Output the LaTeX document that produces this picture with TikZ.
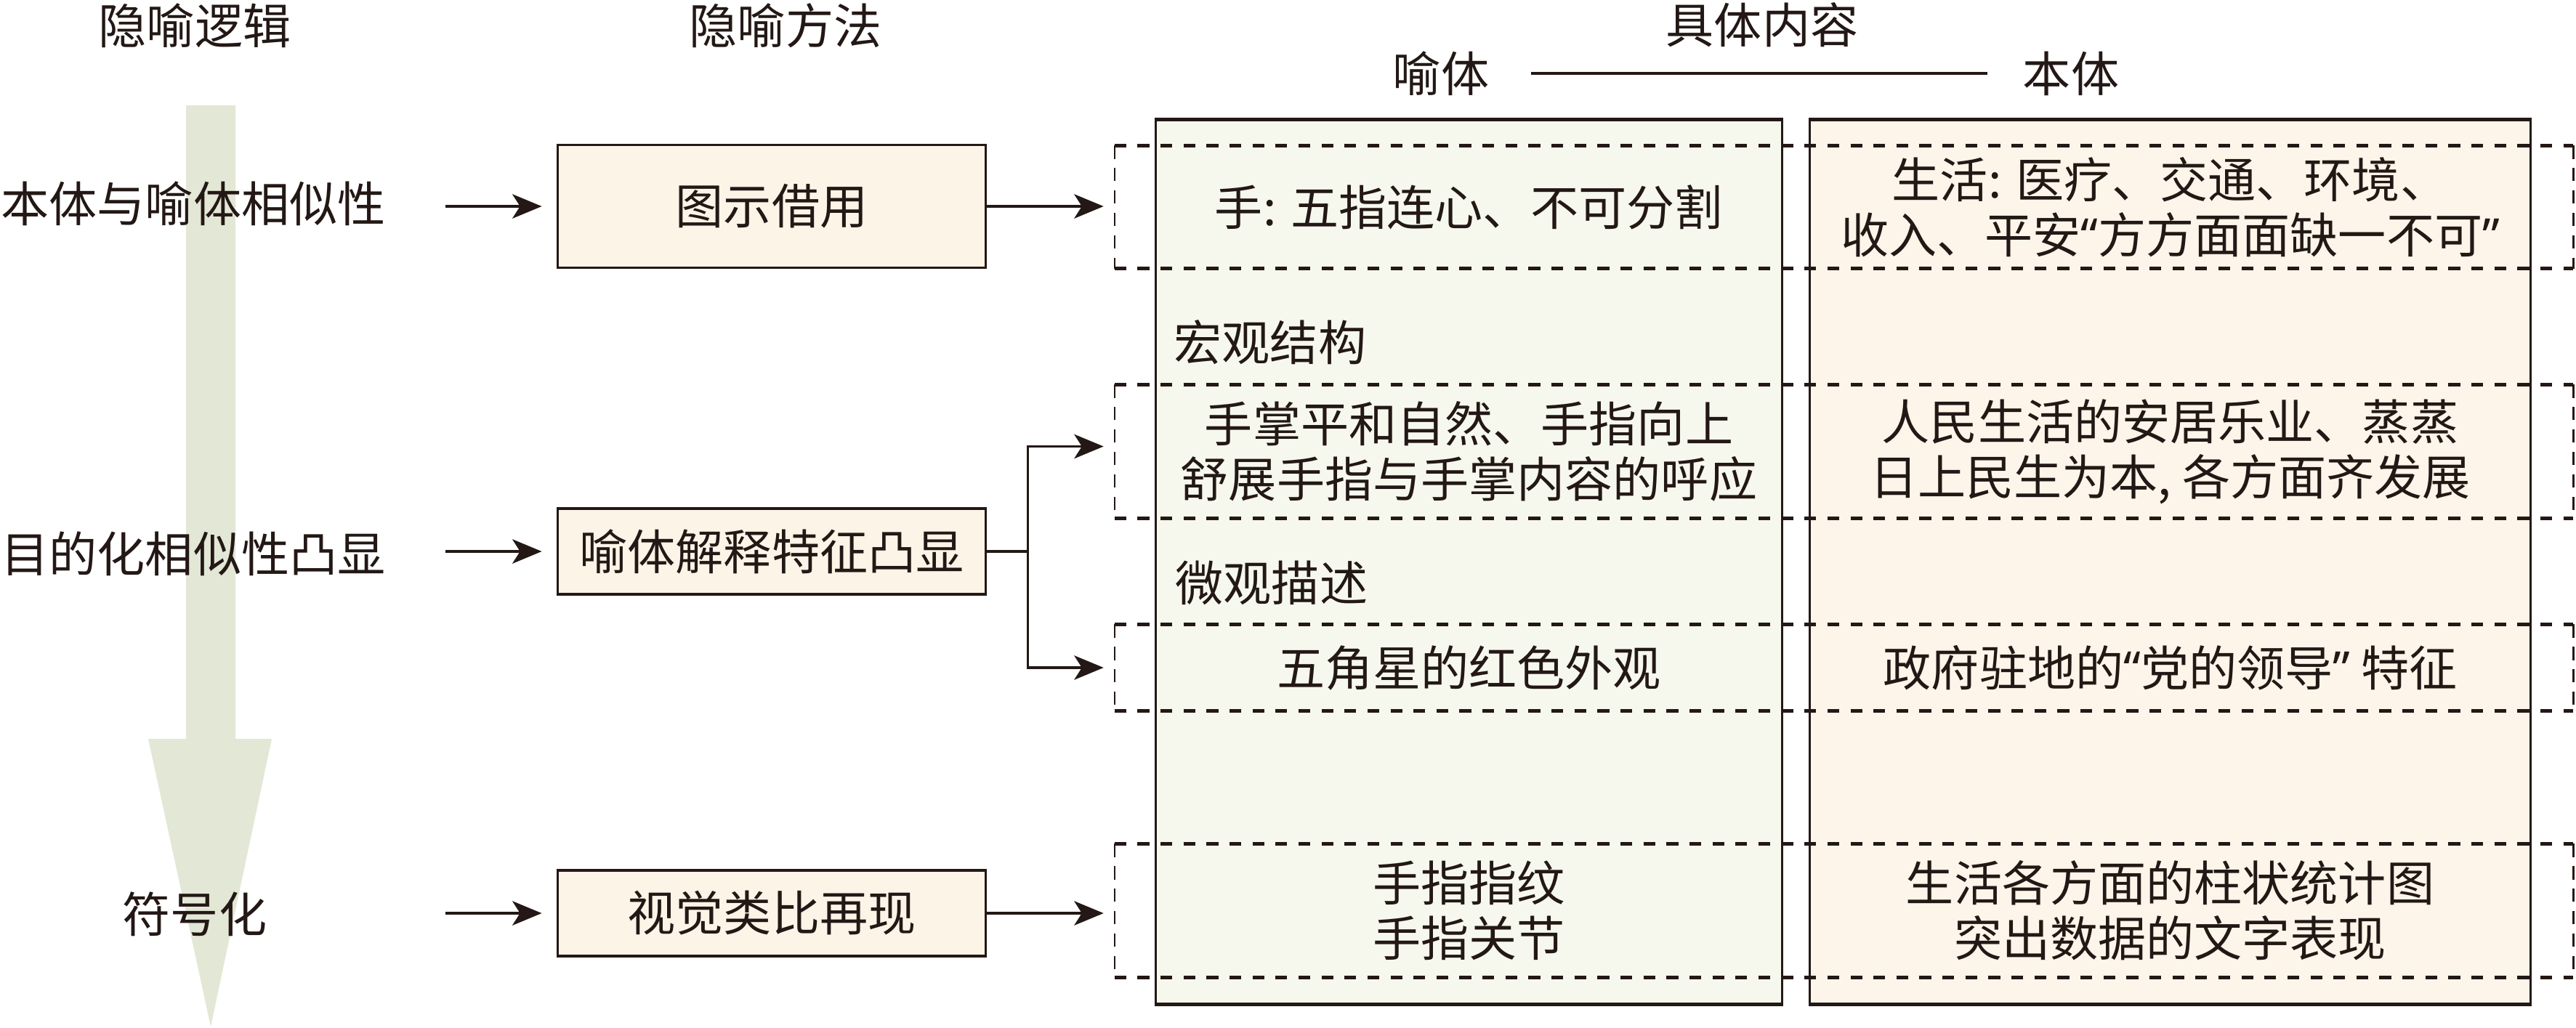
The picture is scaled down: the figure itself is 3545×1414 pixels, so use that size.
\documentclass[tikz,border=0pt]{standalone}
\usepackage{fontspec}
\newfontfamily\cjk{Noto Sans CJK SC}
\newfontfamily\latinq{Noto Sans}
\usetikzlibrary{positioning, arrows.meta}
\usepackage{xcolor}
\definecolor{ink}{HTML}{231815}
\definecolor{boxfill}{HTML}{FCF4E7}
\definecolor{yufill}{HTML}{F6F8ED}
\definecolor{benfill}{HTML}{FDF5E9}
\definecolor{flowgreen}{HTML}{E3E7D5}
\newcommand{\openq}{{\latinq “}}
\newcommand{\closeq}{{\latinq ”}}

\begin{document}
\begin{tikzpicture}[
        x=0.01cm, y=-0.01cm,
        every node/.style={font=\cjk\fontsize{18.8}{21.6}\selectfont, text=ink, inner sep=0pt},
        method/.style={rectangle, draw=ink, line width=1pt, fill=boxfill, minimum width=5.89cm, align=center},
        column/.style={rectangle, draw=ink, line width=0.8pt, minimum height=12.15cm},
        rowbox/.style={rectangle, minimum width=20.05cm},
        rowtext/.style={align=center},
        hdash/.style={ink, line width=1.3pt, dash pattern=on 4.6pt off 4.4pt},
        vdash/.style={ink, line width=0.7pt, dash pattern=on 5.2pt off 3.6pt},
        arr/.style={-{Stealth[length=11.5pt, width=9.5pt, inset=3pt]}, ink, line width=1pt},
        thickline/.style={ink, line width=1.3pt}
    ]
    \useasboundingbox (0,0) rectangle (3545,1414);

    % FLECHA DE LA LOGICA
    \fill[flowgreen] (256,145) -- (324,145) -- (324,1017) -- (374,1017) -- (290,1413) -- (204,1017) -- (256,1017) -- cycle;

    % TITULOS
    \node (tlogic) at (268,35) {隐喻逻辑};
    \node (tmethod) at (1081,35) {隐喻方法};
    \node (tcontent) at (2425,34) {具体内容};
    \node (tyu) at (1983,101) {喻体};
    \node (tben) at (2850,101) {本体};
    \draw[ink, line width=1pt, shorten <=0.57cm, shorten >=0.48cm] (tyu) -- (tben);

    % LOGICA Y METODOS
    \node (lab1) at (266,280) {本体与喻体相似性};
    \node (lab2) at (266,762) {目的化相似性凸显};
    \node (lab3) at (268,1258) {符号化};
    \node[method, minimum height=1.69cm] (box1) at (1062,284) {图示借用};
    \node[method, minimum height=1.18cm] (box2) at (1062,759) {喻体解释特征凸显};
    \node[method, minimum height=1.18cm] (box3) at (1062,1257) {视觉类比再现};
    \coordinate (arrstart) at (613,0);
    \foreach \i in {1,2,3}
        \draw[arr, shorten >=0.2cm] (arrstart |- box\i.west) -- (box\i.west);

    % CONTENIDO
    \node[column, fill=yufill, minimum width=8.61cm] (colyu) at (2021.5,773.5) {};
    \node[column, fill=benfill, minimum width=9.91cm] (colben) at (2986.5,773.5) {};
    \foreach \c in {colyu, colben}
        \draw[thickline] (\c.north west) -- (\c.north east) (\c.south west) -- (\c.south east);

    \node[rowbox, minimum height=1.68cm] (row1) at (2537.5,285) {};
    \node[rowbox, minimum height=1.83cm] (row2) at (2537.5,621.5) {};
    \node[rowbox, minimum height=1.18cm] (row3) at (2537.5,919) {};
    \node[rowbox, minimum height=1.83cm] (row4) at (2537.5,1253.5) {};
    \foreach \r in {row1, row2, row3, row4} {
        \draw[hdash] (\r.north west) -- (\r.north east) (\r.south west) -- (\r.south east);
        \draw[vdash] (\r.north west) -- (\r.south west) (\r.north east) -- (\r.south east);
    }

    \node[anchor=west] (macro) at (1615,471) {宏观结构};
    \node[anchor=west] (micro) at (1617,802) {微观描述};

    \node[rowtext] (yu1) at (colyu.center |- row1.center) {手: 五指连心、不可分割};
    \node[rowtext] (ben1) at (colben.center |- row1.center) {生活: 医疗、交通、环境、\\收入、平安\openq 方方面面缺一不可\closeq};
    \node[rowtext] (yu2) at (colyu.center |- row2.center) {手掌平和自然、手指向上\\舒展手指与手掌内容的呼应};
    \node[rowtext] (ben2) at (colben.center |- row2.center) {人民生活的安居乐业、蒸蒸\\日上民生为本, 各方面齐发展};
    \node[rowtext] (yu3) at (colyu.center |- row3.center) {五角星的红色外观};
    \node[rowtext] (ben3) at (colben.center |- row3.center) {政府驻地的\openq 党的领导\closeq\ 特征};
    \node[rowtext] (yu4) at (colyu.center |- row4.center) {手指指纹\\手指关节};
    \node[rowtext] (ben4) at (colben.center |- row4.center) {生活各方面的柱状统计图\\突出数据的文字表现};

    % Flechas de conexion
    \draw[arr, shorten >=0.15cm] (box1.east) -- (box1.east -| row1.west);
    \draw[arr, shorten >=0.15cm] (box2.east) -- ++(56,0) coordinate (fork) |- ([yshift=0.07cm]row2.west);
    \draw[arr, shorten >=0.15cm] (fork) |- (row3.west);
    \draw[arr, shorten >=0.15cm] (box3.east) -- (box3.east -| row4.west);
\end{tikzpicture}
\end{document}
